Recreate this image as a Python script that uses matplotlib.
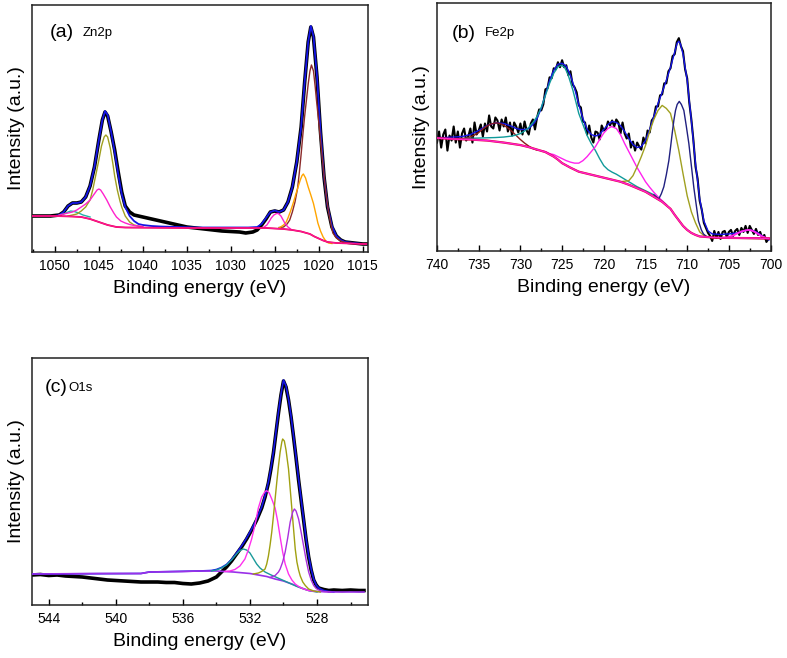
import numpy as np
import matplotlib
matplotlib.use("Agg")
import matplotlib.pyplot as plt
from matplotlib.ticker import MultipleLocator

plt.rcParams['font.family'] = ['Liberation Sans', 'DejaVu Sans']

# ---------------- Panel (a) Zn2p ----------------
a_data_e = [1052.6, 1051.5, 1050.5, 1049.5, 1049.0, 1048.5, 1048.0, 1047.5, 1047.0, 1046.5, 1046.0,
            1045.5, 1045.0, 1044.6, 1044.3, 1044.0, 1043.6, 1043.2, 1042.8, 1042.4, 1042.0, 1041.5,
            1041.0, 1040.0, 1039.0, 1038.0, 1037.0, 1036.0, 1035.0, 1034.0, 1033.0, 1032.0, 1031.0,
            1030.0, 1029.0, 1028.3, 1027.5, 1027.0, 1026.5, 1026.0, 1025.5, 1025.0, 1024.5, 1024.0,
            1023.5, 1023.0, 1022.5, 1022.0, 1021.6, 1021.2, 1020.9, 1020.6, 1020.2, 1019.8, 1019.4,
            1019.0, 1018.5, 1018.0, 1017.5, 1017.0, 1016.0, 1015.0, 1014.6]
a_data_i = [36, 36, 36, 37, 40, 46, 49, 49, 50, 55, 66,
            85, 112, 132, 140, 136, 120, 102, 80, 60, 46, 40,
            37, 35, 33, 31, 29, 27, 25, 24, 23, 22, 21,
            20.5, 20, 19, 20, 22, 27, 33, 40, 41, 40, 42,
            50, 65, 90, 125, 170, 210, 225, 215, 175, 120, 75,
            45, 25, 16, 12, 10, 9, 8, 8]

a_env_e = [1052.6, 1050.0, 1049.5, 1049.0, 1048.5, 1048.0, 1047.5, 1047.0, 1046.5, 1046.0, 1045.5,
           1045.0, 1044.6, 1044.3, 1044.0, 1043.6, 1043.2, 1042.8, 1042.4, 1042.0, 1041.5, 1041.0,
           1040.5, 1040.0, 1039.0, 1038.0, 1036.0, 1034.0, 1032.0, 1030.0, 1028.0, 1027.0, 1026.5,
           1026.0, 1025.5, 1025.0, 1024.5, 1024.0, 1023.5, 1023.0, 1022.5, 1022.0, 1021.6, 1021.2,
           1020.9, 1020.6, 1020.2, 1019.8, 1019.4, 1019.0, 1018.5, 1018.0, 1017.5, 1017.0, 1016.0,
           1015.0, 1014.6]
a_env_i = [36, 36, 37, 40, 46, 49, 49, 50, 55, 66, 85,
           112, 132, 141, 137, 120, 100, 78, 58, 45, 36, 31,
           28, 27, 26, 25.5, 25, 24.5, 24.5, 24.5, 24.5, 25, 28,
           34, 40, 41.5, 40, 42, 50, 65, 90, 125, 170, 210,
           226, 216, 176, 121, 76, 46, 26, 16, 12, 10, 9,
           8, 8]

a_base_e = [1052.6, 1050, 1048, 1047, 1046, 1045, 1044, 1043, 1042, 1035, 1030, 1026, 1024, 1023,
            1022, 1021, 1020.5, 1020, 1019.5, 1019, 1018, 1017, 1015, 1014.6]
a_base_i = [36, 36, 35.5, 35, 33, 30, 27, 25, 24.5, 24, 24, 24, 23, 22,
            20.5, 18, 15.5, 13.5, 11.5, 10, 9, 8.7, 8, 8]

a_p1_e = [1048.5, 1048, 1047.5, 1047, 1046.5, 1046, 1045.7, 1045.3, 1045, 1044.7, 1044.4, 1044.2,
          1044, 1043.7, 1043.4, 1043.2, 1042.9, 1042.6, 1042.4, 1042, 1041.5, 1041, 1040.5, 1040]
a_p1_i = [36, 37, 38, 41, 45, 52, 62, 79, 92, 106, 115, 117,
          115, 104, 88, 76, 62, 51, 45, 36, 30, 27, 26, 25]

a_p2_e = [1049.5, 1049, 1048.5, 1048, 1047.5, 1047, 1046.5, 1046, 1045.6, 1045.2, 1045, 1044.8,
          1044.5, 1044.1, 1043.7, 1043.3, 1043, 1042.5, 1042, 1041.5, 1041, 1040]
a_p2_i = [37, 38, 39, 40, 42, 45, 48, 52, 57, 62, 63, 62,
          58, 52, 45, 39, 35, 31, 29, 27.5, 26.5, 25.5]

a_p3_e = [1049.5, 1049, 1048.5, 1048.2, 1047.8, 1047.3, 1046.8, 1046]
a_p3_i = [37, 38, 40, 41, 40.5, 39, 37, 35]

a_p4_e = [1024.5, 1024, 1023.6, 1023.3, 1023, 1022.7, 1022.4, 1022.2, 1022, 1021.8, 1021.6, 1021.4,
          1021.2, 1021, 1020.83, 1020.6, 1020.4, 1020.26, 1020, 1019.8, 1019.6, 1019.4, 1019.2,
          1019, 1018.8, 1018.6, 1018.4, 1018, 1017.5, 1017, 1016.5, 1016]
a_p4_i = [24.5, 25, 28, 32, 40, 50, 64, 80, 98, 118, 136, 152,
          168, 181, 187, 181, 165, 152, 130, 112, 94, 77, 60,
          47, 36, 27, 19, 14, 11, 9.5, 9, 8.5]

a_p5_e = [1024.5, 1024, 1023.7, 1023.5, 1023.2, 1022.9, 1022.6, 1022.35, 1022.1, 1021.9, 1021.75,
          1021.5, 1021.2, 1020.9, 1020.6, 1020.3, 1020.1, 1019.8, 1019.5, 1019.2, 1018.9, 1018.5]
a_p5_i = [24, 27, 30, 34, 41, 49, 58, 65, 72, 76.5, 78,
          74, 65, 57, 48.5, 37, 29, 21, 15, 11, 9, 8.5]

a_p6_e = [1026.5, 1026.2, 1025.9, 1025.6, 1025.4, 1025.1, 1024.8, 1024.6, 1024.3, 1024.05, 1023.8,
          1023.5, 1023.2]
a_p6_i = [24, 25, 27, 31, 34, 37, 38.5, 38.5, 36, 32, 28, 25, 23]

# ---------------- Panel (b) Fe2p ----------------
b_data_e = np.arange(740.0, 700.0, -0.25)
b_data_i = [108, 119, 103, 116, 121, 100, 115, 110,
            124, 108, 119, 103, 117, 122, 110, 114,
            122, 108, 128, 116, 120, 126, 114, 127,
            119, 135, 124, 122, 133, 130, 120, 131,
            124, 133, 119, 128, 115, 128, 124, 118,
            127, 116, 129, 120, 116, 127, 131, 121,
            133, 141, 140, 146, 161, 162, 173, 172,
            182, 181, 188, 183, 190, 183, 185, 175,
            179, 166, 163, 158, 145, 143, 129, 128,
            116, 125, 113, 108, 119, 118, 111, 125,
            120, 121, 129, 125, 130, 124, 131, 128,
            117, 128, 117, 112, 117, 103, 109, 100,
            108, 104, 101, 113, 107, 120, 118, 130,
            133, 144, 144, 155, 156, 167, 167, 179,
            182, 194, 196, 208, 212, 204, 199, 181,
            172, 148, 131, 110, 84, 72, 50, 41,
            28, 23, 18, 15, 10, 20, 13, 19,
            12, 19, 20, 14, 19, 21, 15, 20,
            22, 16, 23, 19, 25, 18, 25, 21,
            17, 22, 16, 19, 13, 16, 9, 12]

b_env_e = [740, 739, 738, 737, 736, 735, 734, 733, 732.5, 732, 731, 730.5, 730, 729.5, 729, 728.5,
           728, 727.5, 727, 726.5, 726, 725.5, 725, 724.5, 724, 723.5, 723, 722.5, 722, 721.5, 721,
           720.5, 720, 719.5, 719, 718.5, 718, 717.5, 717, 716.5, 716, 715.5, 715, 714.5, 714,
           713.5, 713, 712.5, 712, 711.5, 711.2, 711, 710.8, 710.5, 710, 709.5, 709, 708.5, 708,
           707.5, 707, 706, 705, 704, 703, 702.5, 702, 701.5, 701, 700.5, 700.2]
b_env_i = [113, 113, 113.5, 114, 116, 120, 125, 127.5, 127.5, 127, 124, 122, 121, 121, 122, 126,
           132, 142, 156, 170, 180, 186, 187, 184, 175, 162, 146, 132, 121, 116, 114.5,
           116, 121, 126, 129, 128, 125, 119, 112, 106, 103, 104, 110, 121, 134,
           147, 158, 170, 183, 198, 207, 209, 206, 196, 170, 130, 87, 52, 30,
           20, 17, 16.5, 17, 18, 20.5, 21, 20, 18, 15, 12, 11]

b_base_e = [740, 738, 736, 734, 732, 730, 729, 728, 727, 726, 725.5, 725, 724, 723, 722, 721, 720,
            719, 718, 717, 716, 715, 714, 713, 712.5, 712, 711.5, 711, 710.5, 710, 709.5, 709,
            708.5, 707, 705, 702, 700.2]
b_base_i = [112.5, 111.5, 111, 110, 108, 105.5, 103.5, 101, 98.5, 94, 91, 87.5, 83, 79, 77, 75, 73,
            71, 69, 66, 62.5, 59, 54, 49, 45.5, 42, 36, 30.5, 25, 21, 18, 16,
            14.5, 13.5, 13, 12.8, 12.5]

b_p1_e = [737, 736.5, 736, 735.5, 735, 734.5, 734, 733.5, 733, 732.8, 732.5, 732, 731.5, 731, 730.5,
          730, 729.5, 729, 728.5, 728]
b_p1_i = [112, 112.5, 113.5, 115.5, 118, 121.5, 124.5, 126.5, 127.5, 127.5, 127, 125.5, 122.5, 119,
          115, 111, 107.5, 104.5, 102, 100.5]

b_p2_e = [737, 735, 733, 732, 731, 730.5, 730, 729.5, 729, 728.5, 728, 727.5, 727, 726.5, 726,
          725.5, 725.1, 724.7, 724.3, 724, 723.7, 723.3, 723, 722.5, 722, 721.5, 721, 720.5, 720,
          719.5, 719, 718.5, 718, 717, 716, 715, 714, 713, 712.5]
b_p2_i = [112, 112.5, 113, 113.5, 114.5, 115.5, 117, 119.5, 123, 128, 134, 143, 155, 167, 177,
          183.5, 185, 183, 176, 168, 160, 147, 137, 126, 115, 107, 100, 92, 85,
          81, 78.5, 76.5, 74, 69, 64, 60, 56, 50, 46]

b_p3_e = [727.5, 727, 726.5, 726, 725.5, 725, 724.5, 724, 723.5, 723, 722.5, 722, 721.5, 721, 720.5,
          720, 719.5, 719.05, 718.5, 718, 717.5, 717, 716.5, 716, 715.5, 715, 714.5, 714, 713.5,
          713, 712.5]
b_p3_i = [100, 99, 97, 96, 94, 92, 90, 88.5, 87.5, 87.5, 90, 94, 99, 104, 111,
          117.5, 122, 124, 122, 116, 107, 99, 91, 83, 76, 69, 63.5, 58.5, 54,
          50, 46]

b_p4_e = [718, 717.5, 717, 716.5, 716, 715.5, 715, 714.5, 714, 713.5, 713, 712.5, 712, 711.5, 711,
          710.5, 710, 709.5, 709, 708.5, 708, 707.5, 707]
b_p4_i = [69, 69.5, 70, 75, 84, 94, 105, 119, 131, 140, 145, 142, 137, 120, 100,
          77, 55, 39, 28, 19, 15.5, 14, 13.5]

b_p5_e = [714, 713.6, 713.4, 713.1, 712.8, 712.5, 712.2, 712, 711.8, 711.6, 711.4, 711.2, 710.95,
          710.7, 710.4, 710.1, 709.8, 709.5, 709.2, 708.9, 708.65, 708.3, 708.05, 707.7, 707.3]
b_p5_i = [56, 53, 52, 57, 64, 76, 90, 103, 117, 130, 140, 146, 149,
          146, 140, 124, 107, 85, 63, 45, 30, 21, 17, 14.5, 13.5]

b_p6_e = [705.5, 705, 704.5, 704, 703.5, 703, 702.7, 702.3, 702, 701.5, 701, 700.5, 700.2]
b_p6_i = [13.2, 14, 15.5, 17.5, 19.5, 20.5, 21, 20.5, 19.5, 17, 14.5, 13, 12.5]

b_p7_e = [707, 700.2]
b_p7_i = [13, 12.2]

# ---------------- Panel (c) O1s ----------------
c_data_e = [545.0, 544.5, 544, 543.5, 543, 542.5, 542, 541.5, 541, 540.5, 540, 539.5, 539, 538.5,
            538, 537.5, 537, 536.5, 536, 535.5, 535, 534.5, 534, 533.7, 533.4, 533.1, 532.8, 532.5,
            532.2, 531.9, 531.6, 531.3, 531.1, 530.9, 530.75, 530.6, 530.45, 530.3, 530.15, 530.0,
            529.85, 529.7, 529.55, 529.4, 529.25, 529.1, 528.95, 528.8, 528.65, 528.5, 528.35,
            528.2, 528.05, 527.9, 527.6, 527.3, 527, 526.5, 526, 525.5, 525.2]
c_data_i = [30, 30.5, 29.5, 30, 29, 28.5, 28, 27, 26, 25, 24.5, 24, 23.5, 23,
            23, 23, 22.5, 22.5, 21.5, 21, 22, 24, 28, 33, 38, 44, 51, 58,
            66, 75, 85, 97, 108, 122, 136, 152, 172, 192, 210, 224,
            218, 205, 188, 168, 147, 125, 105, 85, 65, 48, 35,
            25, 20, 17, 15.5, 14.5, 15, 14.5, 15, 14.5, 14.5]

c_env_e = [545, 538.5, 538, 535, 534.3, 534, 533.7, 533.4, 533.1, 532.8, 532.5, 532.2, 531.9, 531.6,
           531.3, 531.1, 530.9, 530.75, 530.6, 530.45, 530.3, 530.15, 530.0, 529.85, 529.7, 529.55,
           529.4, 529.25, 529.1, 528.95, 528.8, 528.65, 528.5, 528.35, 528.2, 528.05, 527.9,
           527.6, 527.3, 527]
c_env_i = [31, 31.5, 33, 34, 34.5, 35.5, 37.5, 40.5, 45.5, 52, 59, 67, 76, 86,
           98, 109, 123, 137, 153, 173, 193, 211, 225, 219, 206, 189,
           169, 148, 126, 106, 86, 66, 49, 36, 26, 20, 17,
           14.5, 13.5, 13]

c_base_e = [545, 541, 540, 538.5, 538, 536, 535, 534, 533.5, 533, 532, 531.5, 531, 530.5, 530,
            529.5, 529, 528.5, 528, 527, 525.2]
c_base_i = [31, 31.5, 31.5, 31.5, 33, 33.5, 34, 34, 33.5, 33, 31.5, 30, 28.5, 26, 24,
            21, 17.5, 14.5, 13.5, 13, 13]

c_p1_e = [534.3, 534, 533.7, 533.4, 533.1, 532.8, 532.6, 532.4, 532.2, 532, 531.8, 531.6, 531.4,
          531.1, 530.8, 530.4, 530, 529.6, 529.2, 528.8, 528.4, 528]
c_p1_i = [34, 35, 37, 40, 45, 51, 54.5, 56, 55, 52, 46.5, 41, 37,
          33, 30.5, 27.5, 24.5, 21.5, 18.5, 16, 14, 13]

c_p2_e = [533.5, 533.2, 532.9, 532.6, 532.3, 532.1, 531.9, 531.7, 531.5, 531.3, 531.1, 531.0,
          530.85, 530.7, 530.5, 530.35, 530.2, 530.05, 529.9, 529.7, 529.5, 529.3, 529.1, 528.8,
          528.5, 528.1]
c_p2_i = [33.5, 34, 35.5, 39, 46, 55, 66, 80, 97, 108, 113.5, 114.3,
          112, 106, 97, 84, 68, 53, 41, 31, 25, 21, 18.5, 16,
          14.5, 13.5]

c_p3_e = [531.8, 531.5, 531.3, 531.1, 531.0, 530.9, 530.8, 530.7, 530.6, 530.5, 530.4, 530.3,
          530.2, 530.1, 530.05, 529.95, 529.85, 529.7, 529.6, 529.5, 529.4, 529.3, 529.2, 529.1,
          529.0, 528.85, 528.7, 528.5, 528.2, 527.8]
c_p3_i = [31, 32, 33.5, 36, 41, 49, 60, 73, 89, 106, 123, 139,
          153, 163, 166, 164, 155, 136, 116, 96, 76, 56, 43, 35,
          29, 23, 19.5, 16, 14, 13]

c_p4_e = [530.8, 530.5, 530.3, 530.2, 530.05, 529.9, 529.75, 529.6, 529.45, 529.35, 529.25, 529.1,
          528.95, 528.8, 528.65, 528.5, 528.35, 528.2, 528.05, 527.9, 527.6, 527.2]
c_p4_i = [27.5, 29.5, 33, 36, 43, 53, 67, 83, 93, 96, 94, 86,
          73, 59, 45, 33, 25, 19.5, 16.5, 15, 13.5, 13]

# ---------------- Figure ----------------
fig = plt.figure(figsize=(7.87, 6.58), dpi=100)

ax_a = fig.add_axes([32 / 787, (658 - 252) / 658, 336 / 787, 247 / 658])
ax_b = fig.add_axes([437 / 787, (658 - 251) / 658, 334 / 787, 248 / 658])
ax_c = fig.add_axes([32 / 787, (658 - 605) / 658, 336 / 787, 247 / 658])

DATA_KW = dict(color='black', lw=2.6, solid_joinstyle='round', zorder=2)
ENV_KW = dict(color='#1414e6', lw=1.3, zorder=3)
COMP_LW = 1.0

# (a)
ax_a.plot(a_data_e, a_data_i, **DATA_KW)
ax_a.plot(a_env_e, a_env_i, **ENV_KW)
ax_a.plot(a_p3_e, a_p3_i, color='#20b2aa', lw=COMP_LW, zorder=4)
ax_a.plot(a_p1_e, a_p1_i, color='#a0a020', lw=COMP_LW, zorder=4)
ax_a.plot(a_p2_e, a_p2_i, color='#ff22cc', lw=COMP_LW, zorder=4)
ax_a.plot(a_p4_e, a_p4_i, color='#8b2a2a', lw=COMP_LW, zorder=4)
ax_a.plot(a_p5_e, a_p5_i, color='#ffa500', lw=COMP_LW, zorder=4)
ax_a.plot(a_p6_e, a_p6_i, color='#ff22cc', lw=COMP_LW, zorder=4)
ax_a.plot(a_base_e, a_base_i, color='#e0004a', lw=1.3, zorder=5)
ax_a.plot(a_base_e, a_base_i, color='#ff1493', lw=0.9, zorder=5)
ax_a.set_xlim(1052.6, 1014.4)
ax_a.set_ylim(0, 247)
ax_a.xaxis.set_major_locator(MultipleLocator(5))
ax_a.xaxis.set_minor_locator(MultipleLocator(2.5))

# (b)
ax_b.plot(b_data_e, b_data_i, color='black', lw=1.5, zorder=2)
ax_b.plot(b_env_e, b_env_i, color='#1414e6', lw=1.0, zorder=3)
ax_b.plot(b_p1_e, b_p1_i, color='#8b1a1a', lw=COMP_LW, zorder=4)
ax_b.plot(b_p2_e, b_p2_i, color='#109a9a', lw=COMP_LW, zorder=4)
ax_b.plot(b_p3_e, b_p3_i, color='#ff22ee', lw=COMP_LW, zorder=4)
ax_b.plot(b_p4_e, b_p4_i, color='#a0a020', lw=COMP_LW, zorder=4)
ax_b.plot(b_p5_e, b_p5_i, color='#202080', lw=COMP_LW, zorder=4)
ax_b.plot(b_p7_e, b_p7_i, color='#8b1a1a', lw=COMP_LW, zorder=4)
ax_b.plot(b_p6_e, b_p6_i, color='#ff22ee', lw=1.4, zorder=4)
ax_b.plot(b_base_e, b_base_i, color='#e0003a', lw=1.6, zorder=5)
ax_b.plot(b_base_e, b_base_i, color='#ff22cc', lw=1.0, zorder=5)
ax_b.set_xlim(740, 699.95)
ax_b.set_ylim(0, 247)
ax_b.xaxis.set_major_locator(MultipleLocator(5))
ax_b.xaxis.set_minor_locator(MultipleLocator(2.5))

# (c)
ax_c.plot(c_data_e, c_data_i, **DATA_KW)
ax_c.plot(c_env_e, c_env_i, color='#1414e6', lw=1.2, zorder=3)
ax_c.plot(c_base_e, c_base_i, color='#9a30e8', lw=1.2, zorder=4)
ax_c.plot(c_p1_e, c_p1_i, color='#1a9a9a', lw=COMP_LW, zorder=4)
ax_c.plot(c_p2_e, c_p2_i, color='#ff30ee', lw=COMP_LW, zorder=4)
ax_c.plot(c_p3_e, c_p3_i, color='#a0a010', lw=COMP_LW, zorder=4)
ax_c.plot(c_p4_e, c_p4_i, color='#aa30dd', lw=COMP_LW, zorder=4)
ax_c.set_xlim(545, 524.96)
ax_c.set_ylim(0, 247)
ax_c.xaxis.set_major_locator(MultipleLocator(4))
ax_c.xaxis.set_minor_locator(MultipleLocator(2))

for ax in (ax_a, ax_b, ax_c):
    ax.set_yticks([])
    ax.tick_params(axis='x', which='major', direction='in', length=4, width=1,
                   labelsize=10, pad=5, top=False)
    ax.tick_params(axis='x', which='minor', direction='in', length=2, width=1, top=False)
    for s in ax.spines.values():
        s.set_linewidth(1.1)
        s.set_color('#222222')
    ax.set_xlabel('Binding energy (eV)', fontsize=14, labelpad=5)
    ax.set_ylabel('Intensity (a.u.)', fontsize=14, labelpad=5)

ax_a.text(0.054, 0.887, '(a)', transform=ax_a.transAxes, fontsize=14, va='center', ha='left')
ax_a.text(0.152, 0.887, 'Zn2p', transform=ax_a.transAxes, fontsize=9.5, va='center', ha='left')
ax_b.text(0.045, 0.879, '(b)', transform=ax_b.transAxes, fontsize=14, va='center', ha='left')
ax_b.text(0.144, 0.879, 'Fe2p', transform=ax_b.transAxes, fontsize=9.5, va='center', ha='left')
ax_c.text(0.039, 0.879, '(c)', transform=ax_c.transAxes, fontsize=14, va='center', ha='left')
ax_c.text(0.107, 0.879, 'O1s', transform=ax_c.transAxes, fontsize=9.5, va='center', ha='left')

fig.savefig('out.png', dpi=100)
